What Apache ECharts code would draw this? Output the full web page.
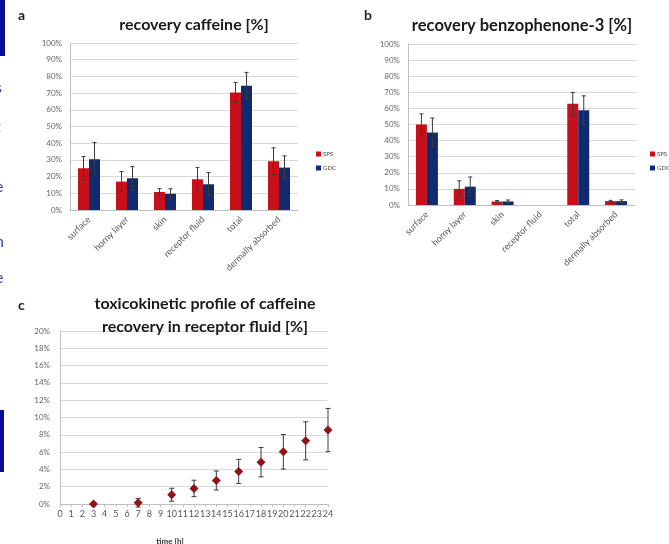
<!DOCTYPE html>
<html>
<head>
<meta charset="utf-8">
<script src="https://cdn.jsdelivr.net/npm/echarts@6/dist/echarts.min.js"></script>
<style>
  html, body { margin: 0; padding: 0; background: #fff; }
  #chart { width: 669px; height: 544px; }
</style>
</head>
<body>
<div id="chart"></div>
<script>
// categories shared by panels a and b
const compartments = ['surface', 'horny layer', 'skin', 'receptor fluid', 'total', 'dermally absorbed']

// panel a: caffeine recovery [%]
const caffeineSps = [25, 17, 10.8, 18.4, 70.4, 29.2]
const caffeineSpsErr = [7, 6, 2, 7, 6, 8]
const caffeineGdc = [30.4, 19, 9.7, 15.4, 74.4, 25.4]
const caffeineGdcErr = [10, 7, 3, 7, 8, 7]

// panel b: benzophenone-3 recovery [%] (receptor fluid not detected)
const bp3Sps = [50, 10, 2.2, null, 62.9, 2.4]
const bp3SpsErr = [6.6, 5, 0.6, null, 7, 0.5]
const bp3Gdc = [45, 11.4, 2.2, null, 58.8, 2.4]
const bp3GdcErr = [9, 6, 0.9, null, 9, 0.8]

// panel c: caffeine in receptor fluid over time
const timeHours = [3, 7, 10, 12, 14, 16, 18, 20, 22, 24]
const receptorRecovery = [0, 0.15, 1.07, 1.8, 2.72, 3.76, 4.84, 6.03, 7.3, 8.55]
const receptorErr = [0, 0.5, 0.75, 0.95, 1.1, 1.4, 1.7, 2.0, 2.2, 2.5]

const RED = '#c8101a'
const NAVY = '#0f2a6e'
const FONT = 'Lato'
const BAR_W = 11

const chart = echarts.init(document.getElementById('chart'))

// error bar with caps, shifted sideways so it sits on its bar
const errorBar = (offset, cap) => (params, api) => {
  const x0 = api.value(0)
  const hi = api.coord([x0, api.value(2)])
  const lo = api.coord([x0, api.value(1)])
  const x = hi[0] + offset
  const style = { stroke: '#3a3a3a', lineWidth: 1 }
  return {
    type: 'group',
    children: [
      { type: 'line', shape: { x1: x, y1: hi[1], x2: x, y2: lo[1] }, style },
      { type: 'line', shape: { x1: x - cap, y1: hi[1], x2: x + cap, y2: hi[1] }, style },
      { type: 'line', shape: { x1: x - cap, y1: lo[1], x2: x + cap, y2: lo[1] }, style }
    ]
  }
}

const errData = (vals, errs) => vals
  .map((v, i) => (v == null ? null : [i, v - errs[i], v + errs[i]]))
  .filter(d => d !== null)

const gridLine = { show: true, lineStyle: { color: '#d9d9d9', width: 1 } }
const axisLine = { show: true, lineStyle: { color: '#bfbfbf' } }
const smallLabel = { color: '#666', fontSize: 8, fontFamily: FONT }

const catAxis = (gridIndex) => ({
  type: 'category',
  gridIndex,
  data: compartments,
  axisLine,
  axisTick: { show: false },
  axisLabel: { color: '#555', fontSize: 9, fontFamily: FONT, rotate: 45, interval: 0, margin: 8 }
})

const pctAxis = (gridIndex) => ({
  type: 'value',
  gridIndex,
  min: 0,
  max: 100,
  interval: 10,
  axisLine,
  axisTick: { show: false },
  splitLine: gridLine,
  axisLabel: { ...smallLabel, formatter: '{value}%', margin: 8 }
})

const barSeries = (name, data, axisIdx, color) => ({
  name,
  type: 'bar',
  xAxisIndex: axisIdx,
  yAxisIndex: axisIdx,
  data,
  barWidth: BAR_W,
  barGap: '0%',
  itemStyle: { color },
  z: 2
})

const errSeries = (vals, errs, axisIdx, offset) => ({
  type: 'custom',
  xAxisIndex: axisIdx,
  yAxisIndex: axisIdx,
  renderItem: errorBar(offset, 2),
  data: errData(vals, errs),
  z: 5,
  silent: true
})

const titleStyle = { fontSize: 16, fontWeight: 'bold', color: '#1a1a1a', fontFamily: FONT }
const legendText = { fontSize: 6, color: '#444', fontFamily: FONT, padding: [0, 0, 0, -3] }

// blue fragments of the neighbouring page on the left edge
const edgeChars = [['s', 80], ['t', 119], ['l', 141], ['e', 179], ['l', 202], ['n', 234], ['e', 270], ['l', 304]]

const option = {
  animation: false,
  backgroundColor: '#fff',
  textStyle: { fontFamily: FONT },
  title: [
    { text: 'recovery caffeine [%]', left: 189, top: 12, textAlign: 'center', textStyle: titleStyle },
    { text: 'recovery benzophenone-3 [%]', left: 517, top: 12, textAlign: 'center', textStyle: { ...titleStyle, fontSize: 16.5 } },
    {
      text: 'toxicokinetic profile of caffeine\nrecovery in receptor fluid [%]',
      left: 200, top: 287, textAlign: 'center',
      textStyle: { ...titleStyle, lineHeight: 23 }
    },
    { text: 'time [h]', left: 165, top: 532, textAlign: 'center', textStyle: { fontSize: 8, fontWeight: 'bold', color: '#333', fontFamily: FONT } }
  ],
  graphic: [
    { type: 'text', left: 18, top: 8, style: { text: 'a', fill: '#222', font: `bold 14px ${FONT}` } },
    { type: 'text', left: 364, top: 8, style: { text: 'b', fill: '#222', font: `bold 14px ${FONT}` } },
    { type: 'text', left: 18, top: 298, style: { text: 'c', fill: '#222', font: `bold 14px ${FONT}` } },
    { type: 'rect', shape: { x: 0, y: 0, width: 5, height: 56 }, style: { fill: '#0a0a96' } },
    { type: 'rect', shape: { x: 0, y: 410, width: 4, height: 62 }, style: { fill: '#0a0a96' } },
    ...edgeChars.map(([ch, y]) => ({
      type: 'text', x: -5, y,
      style: { text: ch, fill: '#3344bb', font: `16px ${FONT}` }
    }))
  ],
  legend: [
    {
      data: ['SPS', 'GDC'],
      orient: 'vertical', left: 311, top: 146,
      itemWidth: 5, itemHeight: 5, itemGap: 8,
      icon: 'rect',
      textStyle: legendText
    },
    {
      data: ['SPS', 'GDC'],
      orient: 'vertical', left: 645, top: 146,
      itemWidth: 5, itemHeight: 5, itemGap: 8,
      icon: 'rect',
      textStyle: legendText
    }
  ],
  grid: [
    { left: 70, right: 371, top: 43, bottom: 334 },
    { left: 408, right: 34, top: 44, bottom: 339 },
    { left: 60, right: 341, top: 331, bottom: 40 }
  ],
  xAxis: [
    catAxis(0),
    catAxis(1),
    {
      type: 'value',
      gridIndex: 2,
      min: 0,
      max: 24,
      interval: 1,
      axisLine,
      axisTick: { show: true, length: 3, lineStyle: { color: '#bfbfbf' } },
      splitLine: { show: false },
      axisLabel: { color: '#555', fontSize: 9, fontFamily: FONT, margin: 6 }
    }
  ],
  yAxis: [
    pctAxis(0),
    pctAxis(1),
    {
      type: 'value',
      gridIndex: 2,
      min: 0,
      max: 20,
      interval: 2,
      axisLine,
      axisTick: { show: false },
      splitLine: gridLine,
      axisLabel: { ...smallLabel, formatter: '{value}%', margin: 10 }
    }
  ],
  series: [
    barSeries('SPS', caffeineSps, 0, RED),
    barSeries('GDC', caffeineGdc, 0, NAVY),
    errSeries(caffeineSps, caffeineSpsErr, 0, -BAR_W / 2),
    errSeries(caffeineGdc, caffeineGdcErr, 0, BAR_W / 2),
    barSeries('SPS', bp3Sps, 1, RED),
    barSeries('GDC', bp3Gdc, 1, NAVY),
    errSeries(bp3Sps, bp3SpsErr, 1, -BAR_W / 2),
    errSeries(bp3Gdc, bp3GdcErr, 1, BAR_W / 2),
    {
      type: 'custom',
      xAxisIndex: 2,
      yAxisIndex: 2,
      renderItem: errorBar(0, 2.5),
      data: timeHours.map((t, i) => [t, receptorRecovery[i] - receptorErr[i], receptorRecovery[i] + receptorErr[i]]),
      z: 3,
      silent: true
    },
    {
      name: 'receptor fluid',
      type: 'scatter',
      xAxisIndex: 2,
      yAxisIndex: 2,
      symbol: 'diamond',
      symbolSize: 9,
      data: timeHours.map((t, i) => [t, receptorRecovery[i]]),
      itemStyle: { color: '#8e1418', opacity: 1 },
      z: 5
    }
  ]
}

chart.setOption(option)
</script>
</body>
</html>
